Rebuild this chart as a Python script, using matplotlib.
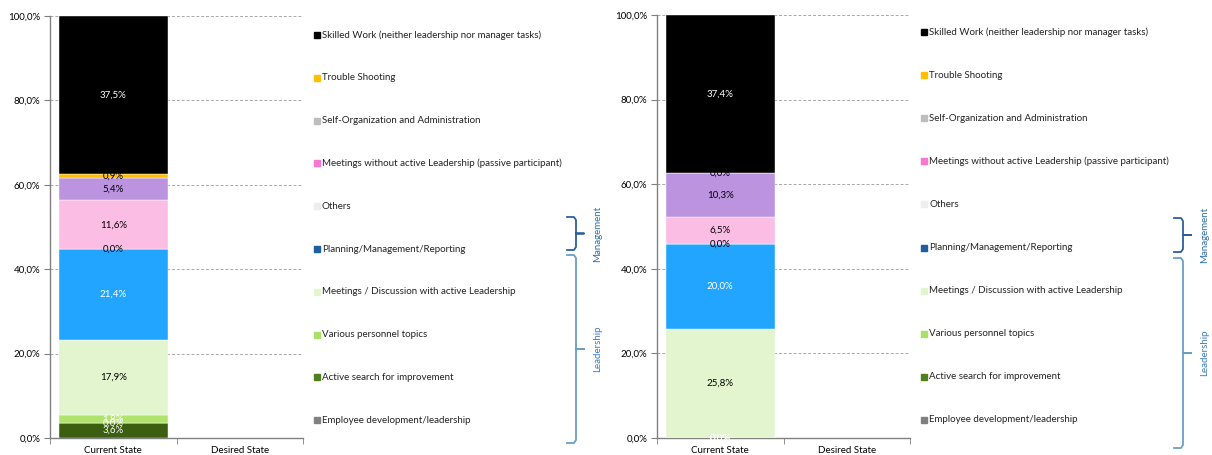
import matplotlib.pyplot as plt
import numpy as np
from matplotlib.patches import Rectangle
from matplotlib.ticker import FuncFormatter

plt.rcParams['font.family'] = ['Lato', 'DejaVu Sans']
plt.rcParams['font.size'] = 7

# activity categories, stacked bottom -> top
activities = [
    "Employee development/leadership",
    "Active search for improvement",
    "Various personnel topics",
    "Meetings / Discussion with active Leadership",
    "Planning/Management/Reporting",
    "Others",
    "Meetings without active Leadership (passive participant)",
    "Self-Organization and Administration",
    "Trouble Shooting",
    "Skilled Work (neither leadership nor manager tasks)",
]
states = ["Current State", "Desired State"]

# share of time (%) for the current state, one list per chart
team_a = [3.6, 0.0, 1.8, 17.9, 21.4, 0.0, 11.6, 5.4, 0.9, 37.5]
team_b = [0.0, 0.0, 0.0, 25.8, 20.0, 0.0, 6.5, 10.3, 0.0, 37.4]

bar_colors = ["#3b5e10", "#5b8c1f", "#b0e36c", "#e3f5cf", "#22a5ff",
              "#f2f2f2", "#fbbde4", "#bb93df", "#ffbf00", "#000000"]
key_colors = ["#808080", "#4f7f1e", "#a8e06a", "#e3f5cf", "#1c5e9e",
              "#eeeeee", "#f878d0", "#bdbdbd", "#ffc000", "#000000"]
label_colors = ["white", "white", "white", "black", "white",
                "black", "black", "black", "black", "white"]

W, H = 1212, 455
fig = plt.figure(figsize=(W / 100, H / 100), dpi=100)


def px(x, y):
    # pixel position (from top-left) -> figure fraction
    return x / W, 1 - y / H


def pct(v, _):
    return f"{v:.1f}%".replace(".", ",")


def brace(x, y0, y1, color, text, text_color):
    ym = (y0 + y1) / 2
    xs = [x - 9, x - 2, x, x, x + 8, x, x, x - 2, x - 9]
    ys = [y0, y0, y0 + 3, ym, ym, ym, y1 - 3, y1, y1]
    fx, fy = zip(*[px(a, b) for a, b in zip(xs, ys)])
    fig.add_artist(plt.Line2D(fx, fy, color=color, lw=1.3,
                              transform=fig.transFigure))
    tx, ty = px(x + 22, ym)
    fig.text(tx, ty, text, rotation=90, ha="center", va="center",
             color=text_color, fontsize=7)


def draw_panel(x0, top, values, key_x, key_top, key_step, brace_x, braces):
    left, ytop = px(x0, top)
    right, ybot = px(x0 + 253, 438)
    ax = fig.add_axes([left, ybot, right - left, ytop - ybot])

    bottom = 0.0
    for i, v in enumerate(values):
        ax.bar(0, v, bottom=bottom, width=0.86, color=bar_colors[i],
               edgecolor="white", linewidth=0.3, zorder=3)
        ax.text(0, bottom + v / 2, pct(v, None), ha="center", va="center",
                color=label_colors[i], fontsize=7, zorder=4)
        bottom += v

    ax.set_xlim(-0.5, 1.5)
    ax.set_ylim(0, 100)
    ax.set_yticks(np.arange(0, 101, 20))
    ax.yaxis.set_major_formatter(FuncFormatter(pct))
    ax.set_xticks([0, 1])
    ax.set_xticklabels(states)
    ax.set_xticks([-0.5, 0.5, 1.5], minor=True)
    ax.tick_params(axis="x", which="major", length=0, pad=6)
    ax.tick_params(axis="x", which="minor", length=4, color="#808080")
    ax.tick_params(axis="y", length=4, color="#808080", pad=3)
    ax.grid(axis="y", color="#a8a8a8", linestyle=(0, (3, 2)), linewidth=0.7,
            zorder=0)
    for side in ["top", "right"]:
        ax.spines[side].set_visible(False)
    for side in ["left", "bottom"]:
        ax.spines[side].set_color("#808080")
        ax.spines[side].set_linewidth(1.0)

    # hand-placed key, top entry is the top of the stack
    for k, name in enumerate(activities[::-1]):
        y = key_top + k * key_step
        mx, my = px(key_x, y + 3)
        fig.add_artist(Rectangle((mx, my), 6 / W, 6 / H,
                                 color=key_colors[::-1][k],
                                 transform=fig.transFigure))
        tx, ty = px(key_x + 8, y)
        fig.text(tx, ty, name, ha="left", va="center", fontsize=7,
                 color="#222222")

    for (y0, y1, col, txt, tcol) in braces:
        brace(brace_x, y0, y1, col, txt, tcol)


draw_panel(50, 16, team_a, 314, 35, 42.8, 576,
           [(217, 250, "#2e5f9a", "Management", "#2e6da4"),
            (255, 443, "#6a9ec5", "Leadership", "#3a7bbd")])
draw_panel(657, 15, team_b, 921, 32, 43.1, 1183,
           [(218, 252, "#2e5f9a", "Management", "#2e6da4"),
            (258, 448, "#6a9ec5", "Leadership", "#3a7bbd")])

fig.savefig("out.png", dpi=100)
